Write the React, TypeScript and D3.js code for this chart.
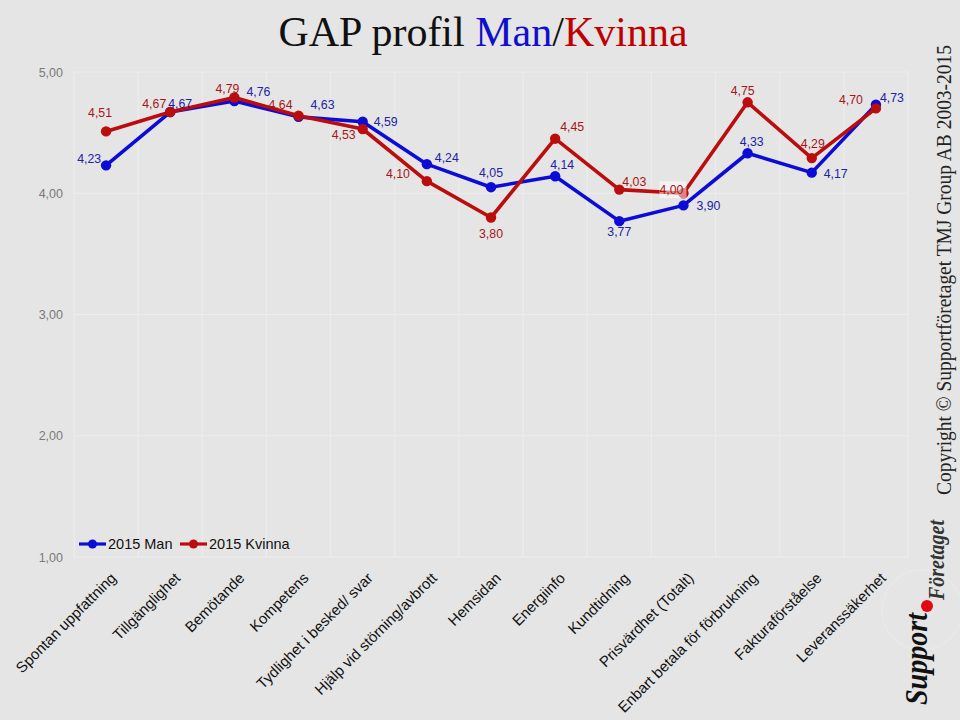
import React from "react";
import * as d3 from "d3";

const categories = [
  "Spontan uppfattning",
  "Tillgänglighet",
  "Bemötande",
  "Kompetens",
  "Tydlighet i besked/ svar",
  "Hjälp vid störning/avbrott",
  "Hemsidan",
  "Energiinfo",
  "Kundtidning",
  "Prisvärdhet (Totalt)",
  "Enbart betala för förbrukning",
  "Fakturaförståelse",
  "Leveranssäkerhet",
];

const man2015 = [4.23, 4.67, 4.76, 4.63, 4.59, 4.24, 4.05, 4.14, 3.77, 3.9, 4.33, 4.17, 4.73];
const kvinna2015 = [4.51, 4.67, 4.79, 4.64, 4.53, 4.1, 3.8, 4.45, 4.03, 4.0, 4.75, 4.29, 4.7];

const yTicks = [1, 2, 3, 4, 5];

const seriesNames = ["2015 Man", "2015 Kvinna"];

// label placement (layout only): [dx, dy, anchor]
const manLabelPos: [number, number, string][] = [
  [-5, -2, "end"],
  [-2, -4, "start"],
  [12, -5, "start"],
  [12, -8, "start"],
  [11, 4, "start"],
  [8, -2, "start"],
  [0, -10, "middle"],
  [7, -7, "middle"],
  [0, 15, "middle"],
  [13, 5, "start"],
  [4, -7, "middle"],
  [12, 5, "start"],
  [4, -3, "start"],
];
const kvinnaLabelPos: [number, number, string][] = [
  [-6, -14, "middle"],
  [-4, -4, "end"],
  [-7, -4, "middle"],
  [-6, -7, "end"],
  [-7, 10, "end"],
  [-17, -3, "end"],
  [0, 20, "middle"],
  [5, -8, "start"],
  [3, -4, "start"],
  [0, 1, "end"],
  [-5, -7, "middle"],
  [1, -10, "middle"],
  [-13, -4, "end"],
];

const W = 960;
const H = 720;
const left = 74;
const right = 908;
const top = 72;
const bottom = 557;

const BLUE = "#0c0cd6";
const RED = "#bb0d0d";
const BLUE_T = "#2222a6";
const RED_T = "#a51616";

const fmt = (v: number) => v.toFixed(2).replace(".", ",");

export default function App() {
  const x = d3.scaleBand<string>().domain(categories).range([left, right]);
  const y = d3.scaleLinear().domain([1, 5]).range([bottom, top]);
  const cx = (i: number) => (x(categories[i]) as number) + x.bandwidth() / 2;

  const line = d3
    .line<number>()
    .x((_, i) => cx(i))
    .y((d) => y(d));

  const font = "'Liberation Sans', Arial, sans-serif";
  const boundaries = categories.map((c) => x(c) as number).concat([right]);

  const renderSeries = (vals: number[], color: string) => (
    <g>
      <path d={line(vals) || ""} fill="none" stroke={color} strokeWidth={3.6} strokeLinejoin="round" />
      {vals.map((v, i) => (
        <circle key={i} cx={cx(i)} cy={y(v)} r={5.2} fill={color} />
      ))}
    </g>
  );

  const renderLabels = (vals: number[], pos: [number, number, string][], color: string) =>
    vals.map((v, i) => (
      <text
        key={i}
        x={cx(i) + pos[i][0]}
        y={y(v) + pos[i][1]}
        textAnchor={pos[i][2] as any}
        fontSize={12.3}
        fontFamily={font}
        fill={color}
      >
        {fmt(v)}
      </text>
    ));

  const i400 = 9;

  return (
    <svg
      width={W}
      height={H}
      style={{ position: "absolute", left: 0, top: 0, background: "#e5e5e5" }}
    >
      <rect x={0} y={0} width={W} height={H} fill="#e5e5e5" />
      {/* faint watermark circle */}
      <circle cx={922} cy={610} r={40} fill="none" stroke="#e9e9e9" strokeWidth={1.5} />

      {/* grid */}
      {yTicks.map((t) => (
        <line key={t} x1={left} x2={right} y1={y(t)} y2={y(t)} stroke="#ededed" strokeWidth={1.2} />
      ))}
      {boundaries.map((b, i) => (
        <line key={i} x1={b} x2={b} y1={top} y2={bottom} stroke="#ececec" strokeWidth={1.2} />
      ))}

      {/* y tick labels */}
      {yTicks.map((t) => (
        <text key={t} x={63} y={y(t) + 4.5} textAnchor="end" fontSize={12.5} fontFamily={font} fill="#7a7a7a">
          {fmt(t)}
        </text>
      ))}

      {/* title */}
      <text x={483} y={46} textAnchor="middle" fontSize={42} fontFamily="'Liberation Serif', 'Times New Roman', serif" fill="#111">
        GAP profil <tspan fill="#1010cc">Man</tspan>/<tspan fill="#c00000">Kvinna</tspan>
      </text>

      {renderSeries(man2015, BLUE)}
      {renderSeries(kvinna2015, RED)}

      {/* white translucent box under 4,00 label */}
      <rect x={cx(i400) - 24} y={y(kvinna2015[i400]) - 12} width={27} height={17} fill="#ffffff" opacity={0.5} />

      {renderLabels(man2015, manLabelPos, BLUE_T)}
      {renderLabels(kvinna2015, kvinnaLabelPos, RED_T)}

      {/* legend */}
      <g fontFamily={font} fontSize={14.5} fill="#111">
        <line x1={79} x2={106} y1={544} y2={544} stroke={BLUE} strokeWidth={3.2} />
        <circle cx={92.5} cy={544} r={4.5} fill={BLUE} />
        <text x={108} y={549}>{seriesNames[0]}</text>
        <line x1={180} x2={207} y1={544} y2={544} stroke={RED} strokeWidth={3.2} />
        <circle cx={193.5} cy={544} r={4.5} fill={RED} />
        <text x={209} y={549}>{seriesNames[1]}</text>
      </g>

      {/* x labels */}
      {categories.map((c, i) => (
        <text
          key={c}
          transform={`translate(${cx(i) + 11},${579}) rotate(-45)`}
          textAnchor="end"
          fontSize={15}
          fontFamily={font}
          fill="#111"
        >
          {c}
        </text>
      ))}

      {/* copyright */}
      <text
        transform="translate(951,495) rotate(-90)"
        fontSize={21}
        fontFamily="'Liberation Serif', 'Times New Roman', serif"
        fill="#222"
        textLength={450}
        lengthAdjust="spacingAndGlyphs"
      >
        Copyright © Supportföretaget TMJ Group AB 2003-2015
      </text>

      {/* logo */}
      <text
        transform="translate(927,705) rotate(-90)"
        fontSize={32}
        fontStyle="italic"
        fontWeight="bold"
        fontFamily="'Liberation Serif', serif"
        fill="#111"
        textLength={92}
        lengthAdjust="spacingAndGlyphs"
      >
        Support
      </text>
      <circle cx={927} cy={606} r={6} fill="#e30613" />
      <text
        transform="translate(944,600) rotate(-90)"
        fontSize={23}
        fontStyle="italic"
        fontWeight="bold"
        fontFamily="'Liberation Serif', serif"
        fill="#333"
        textLength={80}
        lengthAdjust="spacingAndGlyphs"
      >
        Företaget
      </text>
    </svg>
  );
}
